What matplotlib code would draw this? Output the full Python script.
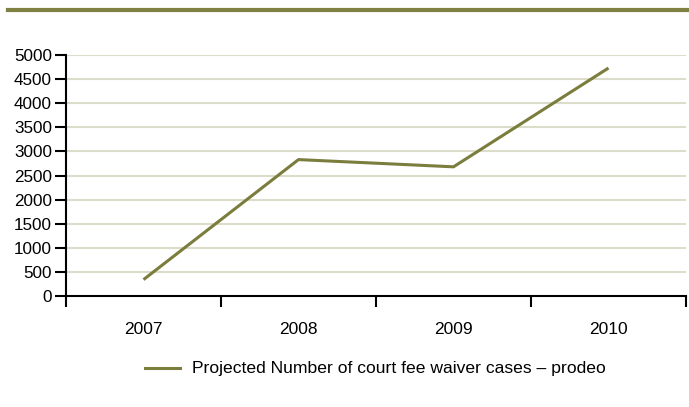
import matplotlib
matplotlib.use("Agg")
import matplotlib.pyplot as plt
from matplotlib.lines import Line2D
from matplotlib import font_manager

years = ["2007", "2008", "2009", "2010"]
values = [340, 2830, 2680, 4730]
series_label = "Projected Number of court fee waiver cases \u2013 prodeo"
yticks = list(range(0, 5001, 500))

names = {f.name for f in font_manager.fontManager.ttflist}
fam = ["Liberation Sans Narrow", "Liberation Sans", "DejaVu Sans"]
fam = [f for f in fam if f in names] or ["DejaVu Sans"]
plt.rcParams["font.family"] = fam

olive = "#7a7d3c"
grid = "#dcdccb"

fig = plt.figure(figsize=(6.89, 4.07), dpi=100)
ax = fig.add_axes([66/689, 1-296/407, 620/689, 241/407])

x = list(range(len(years)))
ax.plot(x, values, color=olive, lw=2.2, solid_capstyle="butt")
ax.set_xlim(-0.5, len(years)-0.5)
ax.set_ylim(0, 5000)
ax.set_yticks(yticks)
ax.set_yticklabels([str(v) for v in yticks], fontsize=12.3)
ax.set_xticks([i+0.5 for i in range(-1, len(years))], minor=False)
ax.set_xticklabels([])
ax.set_xticks(x, minor=True)
ax.set_xticklabels(years, minor=True, fontsize=12.5)
ax.tick_params(axis="x", which="minor", length=0, pad=19)
ax.tick_params(axis="x", which="major", length=8, width=1.5, direction="out", color="black")
ax.tick_params(axis="y", length=8, width=1.5, direction="out", pad=2)
for v in yticks[1:]:
    ax.axhline(v, color=grid, lw=1.5, zorder=0)
for s in ["top", "right"]:
    ax.spines[s].set_visible(False)
ax.spines["left"].set_linewidth(1.5)
ax.spines["bottom"].set_linewidth(1.5)

fig.add_artist(Line2D([8/689, 1], [1-10/407, 1-10/407], color="#7f8142", lw=3, transform=fig.transFigure))
fig.add_artist(Line2D([145/689, 180/689], [1-368/407, 1-368/407], color=olive, lw=2.2, transform=fig.transFigure))
fig.text(192/689, 1-368/407, series_label, fontsize=12.6, va="center", ha="left")

fig.savefig("out.png", dpi=100)
